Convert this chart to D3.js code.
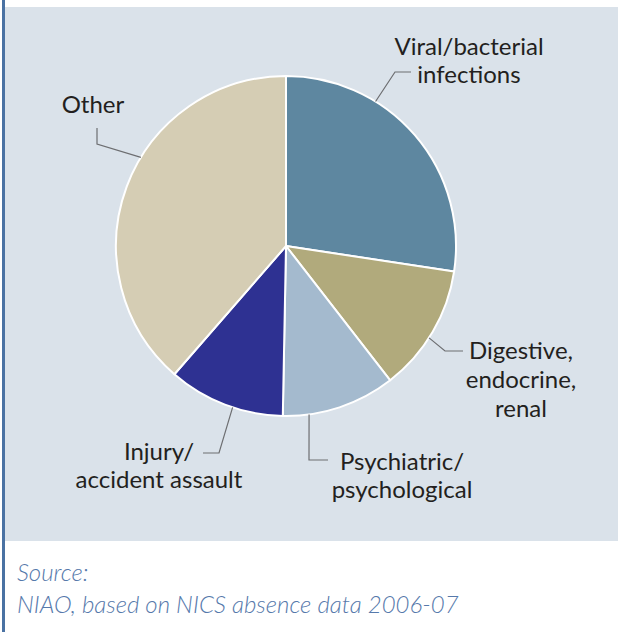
<!DOCTYPE html>
<html>
<head>
<meta charset="utf-8">
<script src="https://cdn.jsdelivr.net/npm/d3@7"></script>
<style>
  html, body { margin: 0; padding: 0; background: #ffffff; }
  svg { display: block; }
  text { font-family: "Lato", "Open Sans", sans-serif; }
</style>
</head>
<body>
<svg id="chart" width="618" height="632"></svg>
<script>
// ---- data ----
const categories = ["Viral/bacterial infections", "Digestive, endocrine, renal", "Psychiatric/psychological", "Injury/accident assault", "Other"];
const values = [27.4, 12.1, 10.8, 11.1, 38.6];
const labelLines = [["Viral/bacterial", "infections"], ["Digestive,", "endocrine,", "renal"], ["Psychiatric/", "psychological"], ["Injury/", "accident assault"], ["Other"]];
const colors = ["#5e87a0", "#b1aa7c", "#a4bace", "#2e3192", "#d5cdb4"];
const sourceLines = ["Source:", "NIAO, based on NICS absence data 2006-07"];

// ---- layout ----
const W = 618, H = 632;
const cx = 286, cy = 246, R = 170;
const labelLayout = [
  { angle: 31.8,  elbow: [395, 72],  end: [411, 72],  x: 469, y: 55,  lh: 28 },
  { angle: 122.7, elbow: [445, 351], end: [463, 351], x: 521, y: 359, lh: 29 },
  { angle: 172.2, elbow: [309, 460], end: [328, 460], x: 402, y: 470, lh: 28 },
  { angle: 198.3, elbow: [219, 453], end: [203, 453], x: 159, y: 460, lh: 28 },
  { angle: 301.4, elbow: [97, 144],  end: [97, 128],  x: 93,  y: 113, lh: 28 }
];

const svg = d3.select("#chart");

// background panel + left rule
svg.append("rect").attr("x", 0).attr("y", 0).attr("width", W).attr("height", H).attr("fill", "#ffffff");
svg.append("rect").attr("x", 5).attr("y", 7).attr("width", W - 5).attr("height", 534).attr("fill", "#dae2ea");
svg.append("rect").attr("x", 2).attr("y", 0).attr("width", 3).attr("height", H).attr("fill", "#4a72a3");

// pie
const pie = d3.pie().sort(null).value(d => d);
const arcs = pie(values);
const arc = d3.arc().innerRadius(0).outerRadius(R);
const g = svg.append("g").attr("transform", `translate(${cx},${cy})`);
g.selectAll("path.slice").data(arcs).join("path")
  .attr("class", "slice")
  .attr("d", arc)
  .attr("fill", (d, i) => colors[i])
  .attr("stroke", "#ffffff")
  .attr("stroke-width", 2)
  .attr("stroke-linejoin", "round");

// leader lines
const rad = a => a * Math.PI / 180;
const leaders = svg.append("g");
labelLayout.forEach((L, i) => {
  const sx = cx + R * Math.sin(rad(L.angle));
  const sy = cy - R * Math.cos(rad(L.angle));
  leaders.append("polyline")
    .attr("points", [[sx, sy], L.elbow, L.end].map(p => p.join(",")).join(" "))
    .attr("fill", "none")
    .attr("stroke", "#6d6e71")
    .attr("stroke-width", 1.2);
});

// labels
const labels = svg.append("g");
labelLayout.forEach((L, i) => {
  const t = labels.append("text")
    .attr("text-anchor", "middle")
    .attr("font-size", 24)
    .attr("fill", "#231f20");
  labelLines[i].forEach((line, j) => {
    t.append("tspan").attr("x", L.x).attr("y", L.y + j * L.lh).text(line);
  });
});

// source
const src = svg.append("text")
  .attr("font-size", 24)
  .attr("font-style", "italic")
  .attr("font-weight", 300)
  .attr("fill", "#5679ab");
sourceLines.forEach((line, j) => {
  src.append("tspan").attr("x", 17).attr("y", 581 + j * 32).text(line);
});
</script>
</body>
</html>
